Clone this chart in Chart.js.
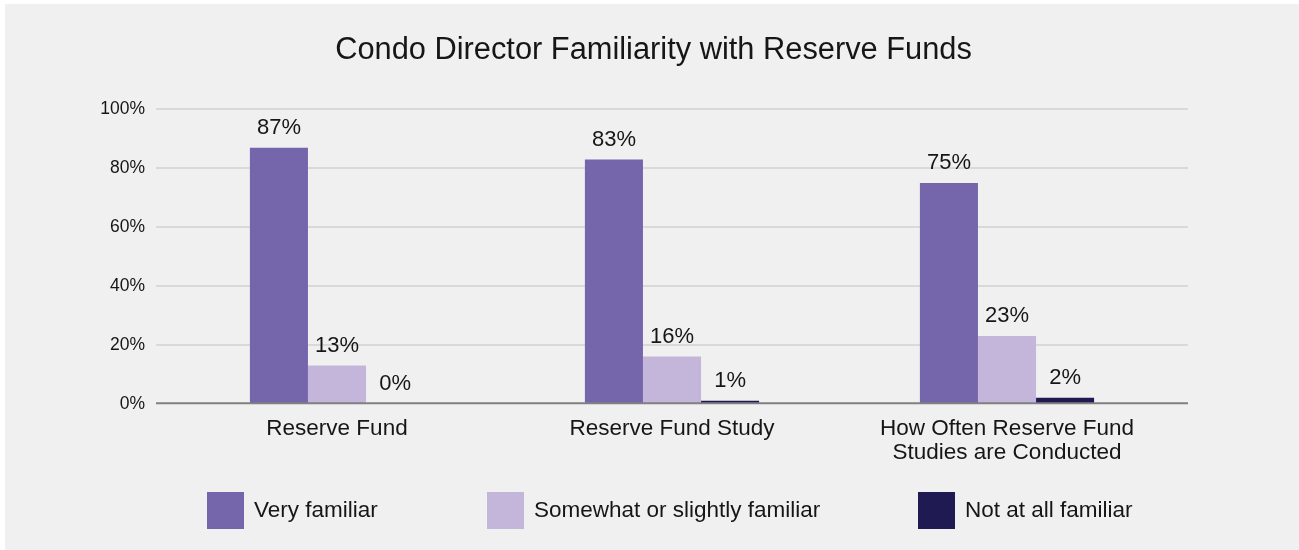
<!DOCTYPE html>
<html lang="en">
<head>
    <meta charset="UTF-8">
    <title>Condo Director Familiarity with Reserve Funds</title>
    <style>
        body {
            margin: 0;
            background: #fff;
            font-family: "Liberation Sans", Arial, sans-serif;
        }

        .chart-box {
            position: absolute;
            left: 5px;
            top: 4px;
            width: 1294px;
            height: 546px;
            background: #f0f0f0;
        }
    </style>
    <script src="https://cdn.jsdelivr.net/npm/chart.js"></script>
</head>
<body>
    <div class="chart-box">
        <canvas id="familiarityChart"></canvas>
    </div>
    <script>
        // data
        const categories = [
            'Reserve Fund',
            'Reserve Fund Study',
            ['How Often Reserve Fund', 'Studies are Conducted']
        ];
        const seriesNames = ['Very familiar', 'Somewhat or slightly familiar', 'Not at all familiar'];
        const veryFamiliar = [87, 83, 75];
        const somewhatFamiliar = [13, 16, 23];
        const notFamiliar = [0, 1, 2];
        const yTicks = [0, 20, 40, 60, 80, 100];

        const colors = ['#7566ab', '#c4b5da', '#1f1a52'];
        const FONT = '"Liberation Sans", Arial, sans-serif';
        const TEXT = '#161616';

        // gridlines run a bit past the plot on both sides, baseline is darker
        const gridPlugin = {
            id: 'wideGrid',
            beforeDatasetsDraw(chart) {
                const { ctx, chartArea, scales } = chart;
                const left = chartArea.left - 13.5;
                const right = chartArea.right + 13.5;
                ctx.save();
                yTicks.forEach(v => {
                    const y = Math.round(scales.y.getPixelForValue(v));
                    if (v === 0) return;
                    ctx.strokeStyle = '#d2d2d2';
                    ctx.lineWidth = 1.5;
                    ctx.beginPath();
                    ctx.moveTo(left, y);
                    ctx.lineTo(right, y);
                    ctx.stroke();
                });
                ctx.restore();
            },
            afterDatasetsDraw(chart) {
                const { ctx, chartArea, scales } = chart;
                const y = scales.y.getPixelForValue(0);
                ctx.save();
                ctx.strokeStyle = '#808080';
                ctx.lineWidth = 2;
                ctx.beginPath();
                ctx.moveTo(chartArea.left - 13.5, y - 0.5);
                ctx.lineTo(chartArea.right + 13.5, y - 0.5);
                ctx.stroke();
                ctx.restore();
            }
        };

        // value labels above each bar
        const valueLabels = {
            id: 'valueLabels',
            afterDatasetsDraw(chart) {
                const { ctx } = chart;
                ctx.save();
                ctx.font = '22px ' + FONT;
                ctx.fillStyle = TEXT;
                ctx.textAlign = 'center';
                ctx.textBaseline = 'middle';
                chart.data.datasets.forEach((ds, i) => {
                    chart.getDatasetMeta(i).data.forEach((bar, j) => {
                        ctx.fillText(ds.data[j] + '%', bar.x, bar.y - 20);
                    });
                });
                ctx.restore();
            }
        };

        // legend with wider gaps than Chart.js allows
        const legendX = [202, 482, 913];
        const bottomLegend = {
            id: 'bottomLegend',
            afterDraw(chart) {
                const { ctx } = chart;
                ctx.save();
                ctx.font = '22.5px ' + FONT;
                ctx.textBaseline = 'middle';
                chart.data.datasets.forEach((ds, i) => {
                    ctx.fillStyle = ds.backgroundColor;
                    ctx.fillRect(legendX[i], 488, 37, 37);
                    ctx.fillStyle = TEXT;
                    ctx.fillText(ds.label, legendX[i] + 47, 507);
                });
                ctx.restore();
            }
        };

        const ctx = document.getElementById('familiarityChart').getContext('2d');
        new Chart(ctx, {
            type: 'bar',
            data: {
                labels: categories,
                datasets: [
                    { label: seriesNames[0], data: veryFamiliar, backgroundColor: colors[0] },
                    { label: seriesNames[1], data: somewhatFamiliar, backgroundColor: colors[1] },
                    { label: seriesNames[2], data: notFamiliar, backgroundColor: colors[2] }
                ].map(d => Object.assign(d, { barPercentage: 1, categoryPercentage: 0.52 }))
            },
            options: {
                responsive: true,
                maintainAspectRatio: false,
                animation: false,
                layout: { padding: { left: 3, right: 0, top: 0, bottom: 0 } },
                plugins: {
                    legend: { display: false },
                    tooltip: { enabled: false },
                    title: {
                        display: true,
                        text: 'Condo Director Familiarity with Reserve Funds',
                        color: TEXT,
                        font: { family: FONT, size: 30.8, weight: 'normal' },
                        padding: { top: 28, bottom: 40.5 }
                    }
                },
                scales: {
                    x: {
                        grid: { display: false, drawTicks: false },
                        border: { display: false },
                        ticks: {
                            color: TEXT,
                            padding: 13.5,
                            maxRotation: 0,
                            font: { family: FONT, size: 22.5, lineHeight: '23.5px' }
                        },
                        afterFit(scale) { scale.height = 146.3; }
                    },
                    y: {
                        min: 0,
                        max: 100,
                        grid: { display: false, drawTicks: false },
                        border: { display: false },
                        ticks: {
                            stepSize: 20,
                            color: TEXT,
                            padding: 24.5,
                            font: { family: FONT, size: 17.5 },
                            callback: v => v + '%'
                        },
                        afterFit(scale) { scale.width = 161.5; }
                    },
                    // empty right margin so the title centres on the whole figure
                    yRight: {
                        position: 'right',
                        grid: { display: false, drawTicks: false },
                        border: { display: false },
                        ticks: { display: false },
                        afterFit(scale) { scale.width = 124.5; }
                    }
                }
            },
            plugins: [gridPlugin, valueLabels, bottomLegend]
        });
    </script>
</body>
</html>
